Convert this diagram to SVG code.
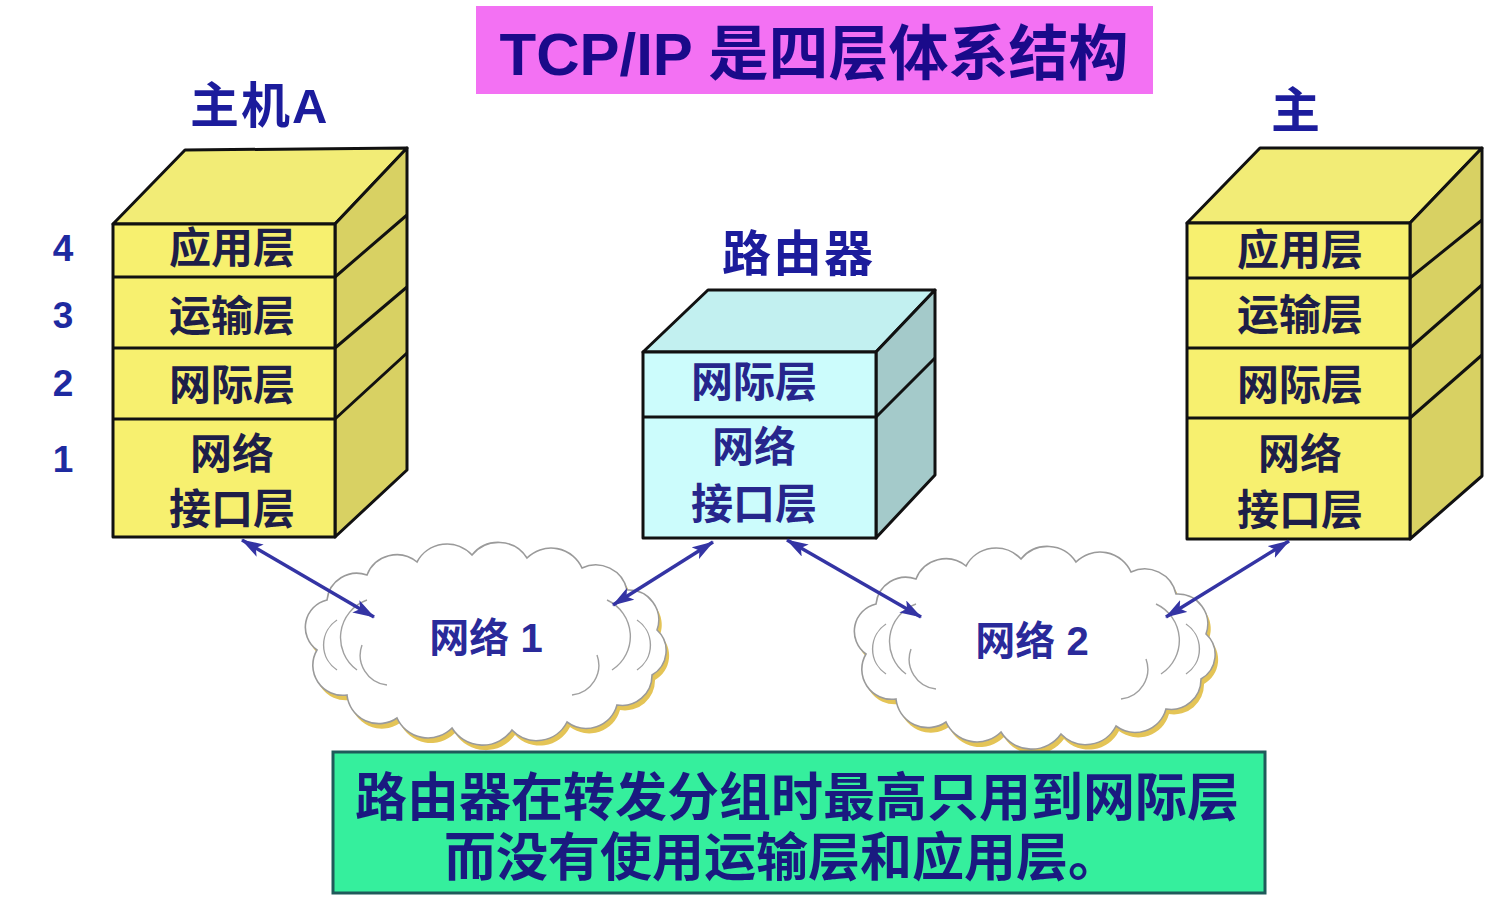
<svg xmlns="http://www.w3.org/2000/svg" width="1494" height="907" viewBox="0 0 1494 907">
<style>
text{font-family:"Liberation Sans","Noto Sans CJK SC",sans-serif;font-weight:bold}
.edge{stroke:#111;stroke-width:3;stroke-linejoin:round}
.yf{fill:#f7f06f}.yt{fill:#f2ec76}.yr{fill:#d8d163}
.cf{fill:#ccfcfc}.ct{fill:#c2f0f0}.cr{fill:#a4caca}
.lay{font-size:42px;fill:#1e1e48;text-anchor:middle;dominant-baseline:central}
.rlay{font-size:42px;fill:#26268c;text-anchor:middle;dominant-baseline:central}
.num{font-size:37px;fill:#1e2aa0;text-anchor:middle;dominant-baseline:central}
.lbl{font-size:49px;fill:#1c1c9c;dominant-baseline:central;letter-spacing:2px}
.cl{font-size:40px;fill:#2a2a9a;text-anchor:middle;dominant-baseline:central}
.conn{stroke:#3434a4;stroke-width:3.5;fill:none;marker-start:url(#ah);marker-end:url(#ah)}
.cloud{fill:#fff;stroke:#9a9a9a;stroke-width:1.6}
.cshadow{fill:#e4c456}
.inner{fill:none;stroke:#a0a0a0;stroke-width:1.4}
</style>
<defs>
<marker id="ah" viewBox="0 0 22 14" refX="21" refY="7" markerWidth="22" markerHeight="14" markerUnits="userSpaceOnUse" orient="auto-start-reverse">
<path d="M0,0 L22,7 L0,14 L5,7 Z" fill="#3434a4"/>
</marker>
<path id="cloudp" d="M-170,10 A28,28 0 0 1 -160,-40 A30,30 0 0 1 -120,-65 A32,32 0 0 1 -70,-78 A34,34 0 0 1 -15,-85 A34,34 0 0 1 40,-82 A34,34 0 0 1 95,-72 A32,32 0 0 1 140,-50 A30,30 0 0 1 170,-10 A28,28 0 0 1 165,35 A30,30 0 0 1 130,65 A32,32 0 0 1 80,82 A34,34 0 0 1 25,90 A36,36 0 0 1 -35,88 A34,34 0 0 1 -90,78 A32,32 0 0 1 -140,55 A30,30 0 0 1 -170,10 Z"/>
<g id="cloud">
<use href="#cloudp" class="cshadow" transform="translate(3,5)"/>
<use href="#cloudp" class="cloud"/>
<path class="inner" d="M-120,-40 A40,40 0 0 0 -130,30 M-125,5 A30,30 0 0 0 -100,45 M120,-40 A40,40 0 0 1 125,30 M110,15 A30,30 0 0 1 85,55 M-150,-20 A30,30 0 0 0 -150,30 M150,-20 A30,30 0 0 1 150,30"/>
</g>
</defs>
<rect width="1494" height="907" fill="#fff"/>

<g id="title">
<rect x="476" y="6" width="677" height="88" fill="#f371f3"/>
<text x="814" y="75" font-size="60" fill="#1a0a8a" text-anchor="middle">TCP/IP 是四层体系结构</text>
</g>

<g id="cloud1">
<use href="#cloud" transform="translate(487,640)"/>
<text class="cl" x="486" y="638">网络 1</text>
</g>
<g id="cloud2">
<use href="#cloud" transform="translate(1036,644)"/>
<text class="cl" x="1032" y="641">网络 2</text>
</g>

<g id="hostA">
<text class="lbl" x="190" y="106">主机A</text>
<polygon class="yt edge" points="113,224 185,150 407,148 335,224"/>
<polygon class="yr edge" points="335,224 407,148 407,470 335,537"/>
<rect class="yf edge" x="113" y="224" width="222" height="313"/>
<path class="edge" fill="none" d="M113,277 H335 L407,215 M113,348 H335 L407,287 M113,419 H335 L407,353"/>
<text class="lay" x="232" y="248">应用层</text>
<text class="lay" x="232" y="316">运输层</text>
<text class="lay" x="232" y="385">网际层</text>
<text class="lay" x="232" y="454">网络</text>
<text class="lay" x="232" y="509">接口层</text>
<text class="num" x="63" y="248">4</text>
<text class="num" x="63" y="315">3</text>
<text class="num" x="63" y="383">2</text>
<text class="num" x="63" y="459">1</text>
</g>

<g id="router">
<text class="lbl" x="722" y="254">路由器</text>
<polygon class="ct edge" points="643,352 708,290 935,290 876,352"/>
<polygon class="cr edge" points="876,352 935,290 935,475 876,538"/>
<rect class="cf edge" x="643" y="352" width="233" height="186"/>
<path class="edge" fill="none" d="M643,417 H876 L935,358"/>
<text class="rlay" x="754" y="382">网际层</text>
<text class="rlay" x="754" y="447">网络</text>
<text class="rlay" x="754" y="504">接口层</text>
</g>

<g id="hostB">
<text class="lbl" x="1271" y="111">主</text>
<polygon class="yt edge" points="1187,223 1260,148 1482,148 1410,223"/>
<polygon class="yr edge" points="1410,223 1482,148 1482,476 1410,539"/>
<rect class="yf edge" x="1187" y="223" width="223" height="316"/>
<path class="edge" fill="none" d="M1187,278 H1410 L1482,220 M1187,348 H1410 L1482,285 M1187,418 H1410 L1482,355"/>
<text class="lay" x="1300" y="250">应用层</text>
<text class="lay" x="1300" y="315">运输层</text>
<text class="lay" x="1300" y="385">网际层</text>
<text class="lay" x="1300" y="454">网络</text>
<text class="lay" x="1300" y="510">接口层</text>
</g>

<g id="connectors">
<line class="conn" x1="242" y1="540" x2="374" y2="617"/>
<line class="conn" x1="713" y1="542" x2="613" y2="605"/>
<line class="conn" x1="787" y1="540" x2="921" y2="617"/>
<line class="conn" x1="1289" y1="541" x2="1166" y2="617"/>
</g>

<g id="note">
<rect x="333" y="752" width="932" height="141" fill="#35ef9d" stroke="#1f5a5a" stroke-width="3"/>
<text x="797" y="816" font-size="52" fill="#1a1a80" text-anchor="middle">路由器在转发分组时最高只用到网际层</text>
<text x="782" y="876" font-size="52" fill="#1a1a80" text-anchor="middle">而没有使用运输层和应用层。</text>
</g>
</svg>
